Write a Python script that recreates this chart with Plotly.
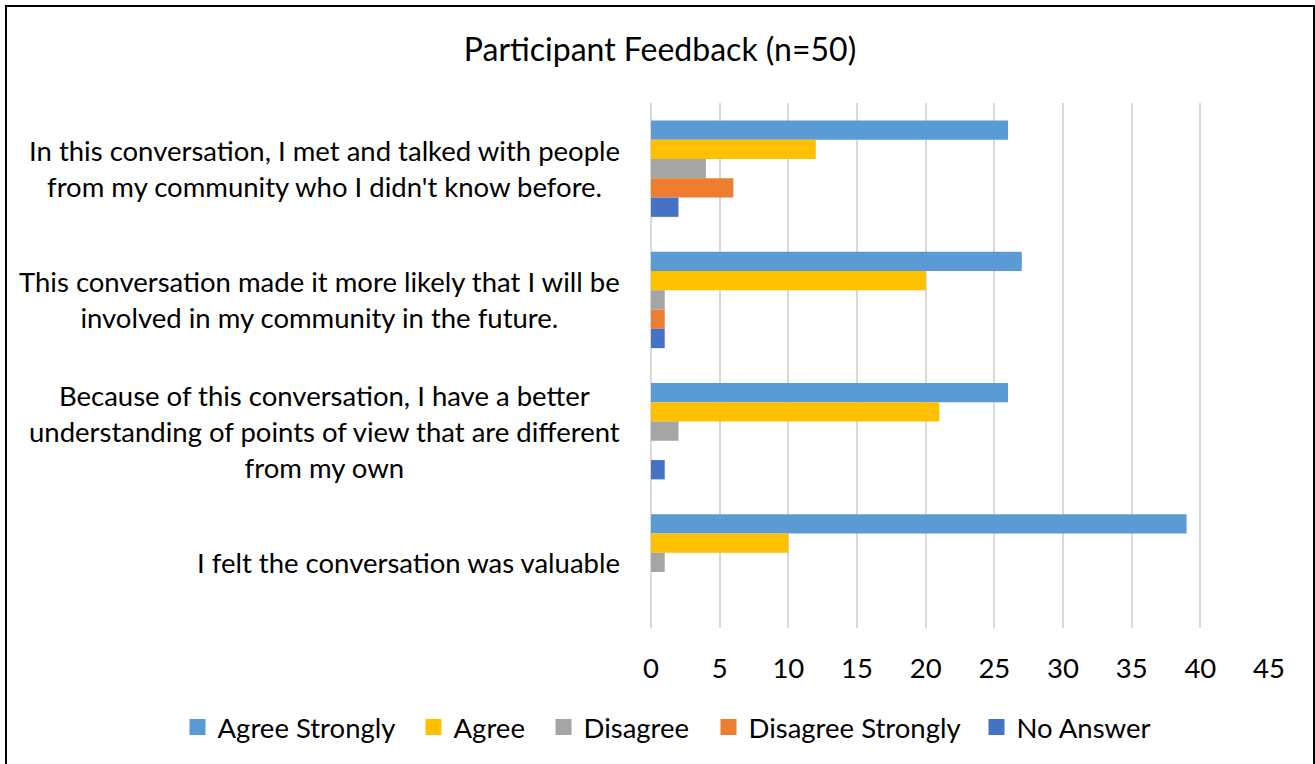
import plotly.graph_objects as go

categories = [
    "In this conversation, I met and talked with people<br>from my community who I didn't know before.",
    "This conversation made it more likely that I will be<br>involved in my community in the future.",
    "Because of this conversation, I have a better<br>understanding of points of view that are different<br>from my own",
    "I felt the conversation was valuable",
]
series_names = ["Agree Strongly", "Agree", "Disagree", "Disagree Strongly", "No Answer"]
agree_strongly = [26, 27, 26, 39]
agree = [12, 20, 21, 10]
disagree = [4, 1, 2, 1]
disagree_strongly = [6, 1, 0, 0]
no_answer = [2, 1, 1, 0]
series_values = [agree_strongly, agree, disagree, disagree_strongly, no_answer]
colors = ["#5B9BD5", "#FFC000", "#A5A5A5", "#ED7D31", "#4472C4"]
x_ticks = [0, 5, 10, 15, 20, 25, 30, 35, 40, 45]

FONT = "Lato"
FS = 27.5
W, H = 1315, 764
L, R, T, B = 651, 46, 103, 136
pw = W - L - R
ph = H - T - B

# legend entry left positions (px) for each series
legend_px = [177.5, 413.5, 543.5, 708.5, 976.5]
legend_ids = ["legend", "legend2", "legend3", "legend4", "legend5"]

fig = go.Figure()
cat_ids = list(range(len(categories)))
for name, vals, col in zip(series_names, series_values, colors):
    fig.add_trace(go.Bar(
        y=cat_ids, x=vals, name=name, orientation="h", showlegend=False,
        legendgroup=name,
        marker=dict(color=col, line=dict(width=0)),
    ))
# legend-only entries (larger square swatches, no data drawn)
for name, col, lid in zip(series_names, colors, legend_ids):
    fig.add_trace(go.Scatter(
        x=[None], y=[None], mode="markers", name=name, legendgroup=name,
        legend=lid, showlegend=True,
        marker=dict(symbol="square", size=16, color=col, line=dict(width=0)),
    ))

for i, c in enumerate(categories):
    fig.add_annotation(
        x=(622 - L) / pw, xref="paper", y=i, yref="y",
        text=c, showarrow=False, xanchor="right", yanchor="middle",
        align="center", font=dict(family=FONT, size=FS, color="#000000"),
    )

fig.add_shape(
    type="rect", xref="paper", yref="paper",
    x0=(6 - L) / pw, x1=(1314 - L) / pw,
    y0=-(790 - (H - B)) / ph,
    y1=((H - B) - 6) / ph,
    line=dict(color="#000000", width=2), fillcolor="rgba(0,0,0,0)", layer="above",
)

legend_layout = {}
for lid, px in zip(legend_ids, legend_px):
    legend_layout[lid] = dict(
        orientation="h", xref="paper", yref="paper",
        x=(px - L) / pw, y=-(727 - (H - B)) / ph,
        xanchor="left", yanchor="middle", bgcolor="rgba(0,0,0,0)",
        font=dict(family=FONT, size=FS, color="#000000"),
        itemwidth=30, itemsizing="trace", itemclick=False, itemdoubleclick=False,
    )

fig.update_layout(
    width=W, height=H,
    margin=dict(l=L, r=R, t=T, b=B),
    paper_bgcolor="white", plot_bgcolor="white",
    barmode="group", bargap=0.265, bargroupgap=0,
    font=dict(family=FONT, size=FS, color="#000000"),
    title=dict(text="Participant Feedback (n=50)", x=660 / W, xref="container",
               y=1 - 50 / H, yref="container", xanchor="center", yanchor="middle",
               font=dict(family=FONT, size=32, color="#000000")),
    xaxis=dict(range=[0, 45], tickvals=x_ticks, ticktext=[str(t) for t in x_ticks],
               showgrid=True, gridcolor="#D9D9D9", gridwidth=1.5,
               zeroline=True, zerolinecolor="#D9D9D9", zerolinewidth=1.5,
               showline=False, ticks="", ticklabelstandoff=21,
               tickfont=dict(family=FONT, size=FS, color="#000000")),
    yaxis=dict(tickvals=cat_ids, showticklabels=False, range=[3.5, -0.5],
               autorange=False, showgrid=False, zeroline=False, showline=False, ticks=""),
    showlegend=True,
    **legend_layout,
)

fig.write_html(
    "out.html",
    config={"displayModeBar": False},
    post_script="document.body.style.margin='0';document.body.style.overflow='hidden';",
)
